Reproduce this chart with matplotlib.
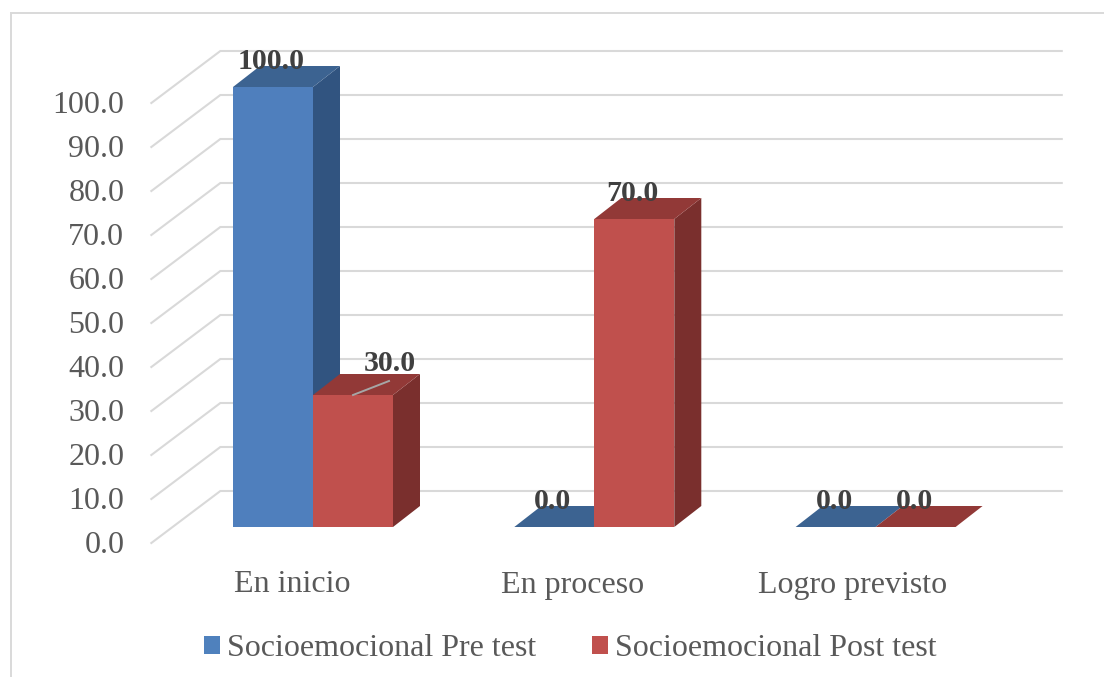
import matplotlib
matplotlib.use('Agg')
import matplotlib.pyplot as plt
from matplotlib.lines import Line2D
from matplotlib.patches import Patch

plt.rcParams['font.family'] = ['Liberation Serif', 'DejaVu Serif']

categories = ['En inicio', 'En proceso', 'Logro previsto']
pre_test = [100.0, 0.0, 0.0]
post_test = [30.0, 70.0, 0.0]
tick_values = [0, 10, 20, 30, 40, 50, 60, 70, 80, 90, 100]
series_names = ['Socioemocional Pre test', 'Socioemocional Post test']

# scale of the axes: pixels per category and per value unit
W, H = 1104, 677
PX_CAT = 281.3
PX_VAL = 4.4
X0, Y0 = 313, 527


def px_x(p):
    return p / PX_CAT


def px_y(p):
    return p / PX_VAL


fig = plt.figure(figsize=(W / 100, H / 100), dpi=100)
ax = fig.add_axes([0, 0, 1, 1])
ax.set_xlim(-X0 / PX_CAT, (W - X0) / PX_CAT)
ax.set_ylim((Y0 - H) / PX_VAL, Y0 / PX_VAL)
ax.axis('off')

# chart area border: only the left and top edges fall inside the image
fig.add_artist(Line2D([10.5 / W, 10.5 / W, 1], [0, 1 - 12.5 / H, 1 - 12.5 / H], transform=fig.transFigure,
                      color='#d9d9d9', linewidth=1.4, solid_joinstyle='miter'))

# gridlines: front stub, diagonal along the side wall, then back wall
front_dx, front_dy = px_x(-21), px_y(-16)
back_dx, back_dy = px_x(48), px_y(36)
for v in tick_values:
    ax.plot([-0.5 + front_dx, -0.5 + back_dx, 2.5 + back_dx - px_x(2.5)],
            [v + front_dy, v + back_dy, v + back_dy],
            color='#d9d9d9', linewidth=1.5, zorder=1, solid_joinstyle='miter')
    ax.text(-0.5 + front_dx + px_x(-27), v + front_dy - px_y(2.5), '%.1f' % v,
            ha='right', va='center', fontsize=23, color='#595959', zorder=6)

for i, name in enumerate(categories):
    ax.text(i * 0.997 + front_dx, px_y(-58), name, ha='center', va='center',
            fontsize=23, color='#595959', zorder=6)

bar_w = 80 / PX_CAT
depth_x, depth_y = px_x(27), px_y(21)


def draw_bar(left, value, front, top, side, z):
    right = left + bar_w
    if value > 0:
        ax.bar(left, value, width=bar_w, align='edge', color=front, linewidth=0, zorder=z)
        ax.fill([right, right + depth_x, right + depth_x, right],
                [0, depth_y, value + depth_y, value], color=side, linewidth=0, zorder=z)
    ax.fill([left, right, right + depth_x, left + depth_x],
            [value, value, value + depth_y, value + depth_y], color=top, linewidth=0, zorder=z)


for i in range(len(categories)):
    draw_bar(i - bar_w, pre_test[i], '#4f7fbd', '#3c6391', '#315480', 2 + i * 0.1)
    draw_bar(i, post_test[i], '#c0504d', '#923937', '#7a2f2d', 2.05 + i * 0.1)

# value labels; the 30.0 one sits off the bar with a leader line
for i in range(len(categories)):
    for left, value in [(i - bar_w, pre_test[i]), (i, post_test[i])]:
        cx = left + bar_w / 2
        if value == 30.0:
            ax.plot([cx, cx + px_x(36)], [value, value + px_y(14)], color='#a6a6a6', linewidth=1.4, zorder=5)
            lx, ly = cx + px_x(36.5), value + px_y(31.5)
        else:
            lx, ly = cx + px_x(-1.5), value + px_y(25.5)
        ax.text(lx, ly, '%.1f' % value, ha='center', va='center', fontsize=21.5,
                fontweight='bold', color='#404040', zorder=7)

handles = [Patch(color='#4f81bd', linewidth=0), Patch(color='#c0504d', linewidth=0)]
ax.legend(handles, series_names, loc='center', bbox_to_anchor=(570 / W, 1 - 649 / H), ncol=2,
          frameon=False, fontsize=23, labelcolor='#595959', handlelength=0.5, handleheight=0.5,
          handletextpad=0.22, columnspacing=1.75, borderpad=0, borderaxespad=0)

fig.savefig('out.png', dpi=100, facecolor='white')
